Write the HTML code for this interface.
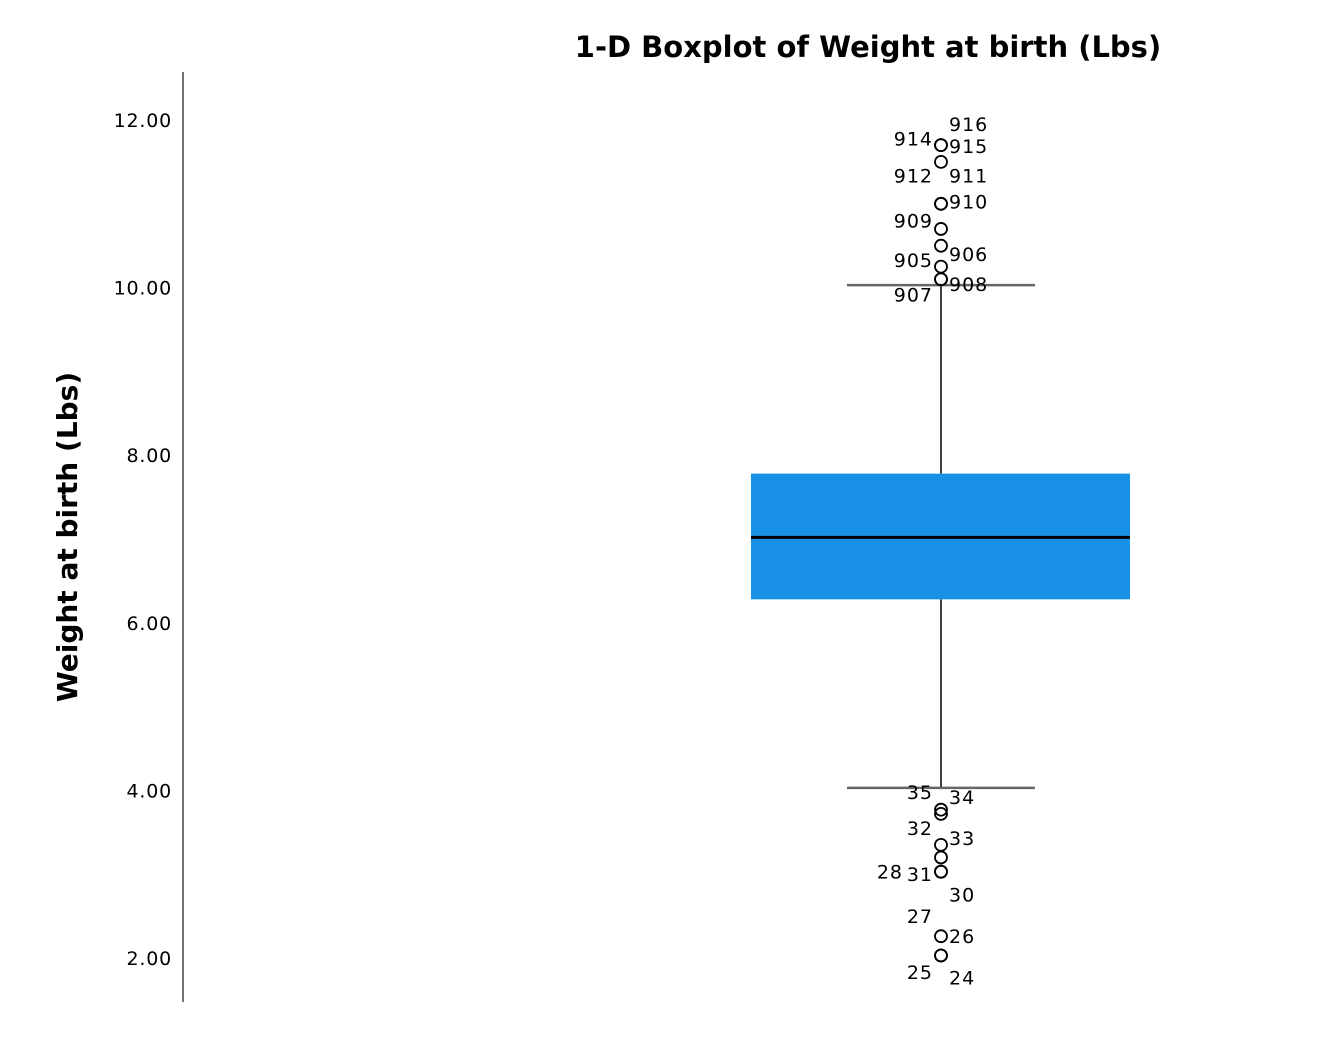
<!DOCTYPE html>
<html><head><meta charset="utf-8"><style>
body{margin:0;background:#fff}
svg text{font-family:"DejaVu Sans","Liberation Sans",sans-serif}
</style></head><body>
<svg id="chart" width="1324" height="1040">
<text x="868" y="57" font-size="29" font-weight="bold" text-anchor="middle">1-D Boxplot of Weight at birth (Lbs)</text>
<text transform="translate(77,537) rotate(-90)" font-size="28" font-weight="bold" text-anchor="middle">Weight at birth (Lbs)</text>
<line x1="183" y1="72" x2="183" y2="1002" stroke="#444" stroke-width="1.5"/>
<g id="g"></g>
</svg>
<script>
const tickValues=[2,4,6,8,10,12];
const tickLabels=["2.00","4.00","6.00","8.00","10.00","12.00"];
const boxStats=[4.03,6.28,7.02,7.78,10.03]; // min, q1, median, q3, max
const outlierValues=[11.7,11.7,11.5,11.0,11.0,10.7,10.5,10.25,10.1,10.1,3.77,3.72,3.35,3.2,3.03,3.03,2.26,2.03,2.03];
const labelTexts=["916","914","915","912","911","910","909","906","905","908","907","35","34","32","33","28","31","30","27","26","25","24"];
const labelValues=[11.95,11.78,11.69,11.34,11.34,11.03,10.8,10.4,10.33,10.04,9.92,3.98,3.92,3.55,3.43,3.03,3.0,2.76,2.5,2.26,1.83,1.77];
const labelSides=["R","L","R","L","R","R","L","R","L","R","L","L","R","L","R","L2","L","R","L","R","L","R"];
const y=v=>958-(v-2)*83.8;
const cx=941;
const NS="http://www.w3.org/2000/svg";
const g=document.getElementById('g');
function mk(t,a){const e=document.createElementNS(NS,t);for(const k in a)e.setAttribute(k,a[k]);g.appendChild(e);return e;}
tickValues.forEach((v,i)=>{const t=mk('text',{x:172,y:y(v)+7,'font-size':19,'text-anchor':'end','letter-spacing':'0.8'});t.textContent=tickLabels[i];

});
const [mn,q1,md,q3,mx]=boxStats;
let e;
e=mk('line',{x1:cx,x2:cx,y1:y(mx),y2:y(q3),stroke:'#000','stroke-width':1.5});


e=mk('line',{x1:cx,x2:cx,y1:y(q1),y2:y(mn),stroke:'#000','stroke-width':1.5});


e=mk('line',{x1:847,x2:1035,y1:y(mx),y2:y(mx),stroke:'#666','stroke-width':2.5});


e=mk('line',{x1:847,x2:1035,y1:y(mn),y2:y(mn),stroke:'#666','stroke-width':2.5});


e=mk('rect',{x:751,width:379,y:y(q3),height:y(q1)-y(q3),fill:'#1790e5'});


e=mk('line',{x1:751,x2:1130,y1:y(md),y2:y(md),stroke:'#000','stroke-width':3});


outlierValues.forEach(v=>{const c=mk('circle',{cx:cx,cy:y(v),r:6,fill:'none',stroke:'#000','stroke-width':1.8});

});
labelTexts.forEach((s,i)=>{const side=labelSides[i];const x=side==='R'?949:(side==='L2'?903:933);
const t=mk('text',{x:x,y:y(labelValues[i])+7,'font-size':19,'text-anchor':side==='R'?'start':'end','letter-spacing':'1'});t.textContent=s;

});
</script>
</body></html>
